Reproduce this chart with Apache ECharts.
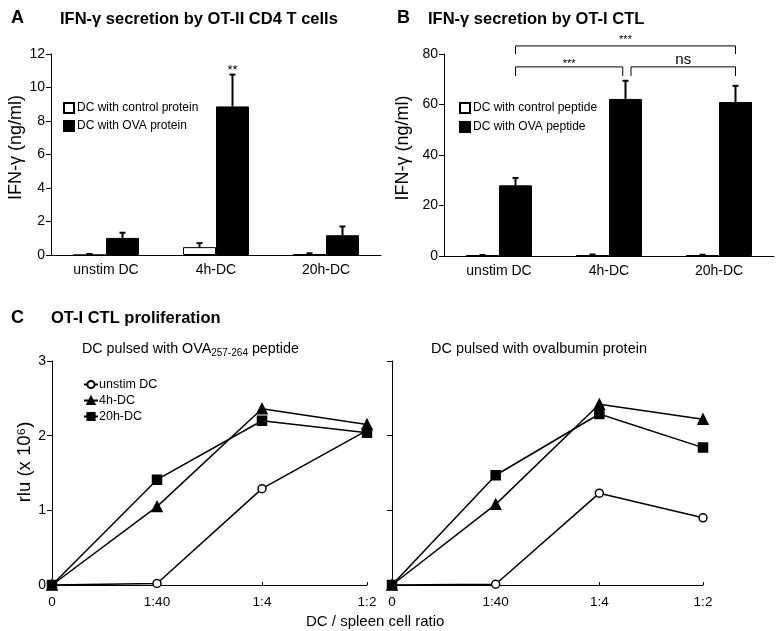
<!DOCTYPE html>
<html>
<head>
<meta charset="utf-8">
<script src="https://cdn.jsdelivr.net/npm/echarts@6/dist/echarts.min.js"></script>
<style>html,body{margin:0;padding:0;background:#fff}#c{width:777px;height:631px}</style>
</head>
<body>
<div id="c"></div>
<script>
// ---------- data ----------
const groups = ['unstim DC', '4h-DC', '20h-DC'];
// Panel A (ng/ml)
const aControl = [0, 0.47, 0.05];
const aControlUpper = [0.06, 0.71, 0.1];
const aOVA = [1.02, 8.87, 1.18];
const aOVAUpper = [1.33, 10.77, 1.7];
const aSig = ['', '**', ''];
// Panel B (ng/ml)
const bControl = [0.3, 0.3, 0.3];
const bControlUpper = [0.4, 0.6, 0.5];
const bOVA = [28, 62.2, 61];
const bOVAUpper = [30.9, 69.4, 67.4];
// brackets in B: from group, to group, bracket height, leg bottom, label
const brFrom = [0, 1, 0];
const brTo = [1, 2, 2];
const brTop = [74.9, 74.9, 83.2];
const brLeg = [71.3, 71.3, 80];
const brText = ['***', 'ns', '***'];
// Panel C (rlu x 10^6)
const ratios = ['0', '1:40', '1:4', '1:2'];
const pepUnstim = [0, 0.02, 1.29, 2.07];
const pep4h = [0, 1.05, 2.36, 2.15];
const pep20h = [0, 1.41, 2.2, 2.04];
const protUnstim = [0, 0.01, 1.23, 0.9];
const prot4h = [0, 1.08, 2.42, 2.22];
const prot20h = [0, 1.47, 2.29, 1.84];
const yTicksA = {min: 0, max: 12, interval: 2};
const yTicksB = {min: 0, max: 80, interval: 20};
const yTicksC = {min: 0, max: 3, interval: 1};

// ---------- chart ----------
const FONT = "'Liberation Sans', Arial, Helvetica, sans-serif";
const chart = echarts.init(document.getElementById('c'), null, {renderer: 'canvas'});

function errSeries(xi, vals, uppers, offFrac, sig) {
  return {
    type: 'custom', xAxisIndex: xi, yAxisIndex: xi, clip: false, silent: true, z: 5,
    data: vals.map((v, i) => [i, v, uppers[i]]),
    renderItem: function (params, api) {
      const w = api.size([1, 0])[0];
      const base = api.coord([api.value(0), api.value(1)]);
      const top = api.coord([api.value(0), api.value(2)]);
      const x = base[0] + w * offFrac;
      const children = [
        {type: 'line', shape: {x1: x, y1: base[1], x2: x, y2: top[1]}, style: {stroke: '#000', lineWidth: 2}},
        {type: 'line', shape: {x1: x - 3, y1: top[1], x2: x + 3, y2: top[1]}, style: {stroke: '#000', lineWidth: 2}}
      ];
      if (sig && sig[params.dataIndex]) {
        children.push({type: 'text', style: {text: sig[params.dataIndex], x: x, y: top[1] + 2, textAlign: 'center', textVerticalAlign: 'bottom', fontSize: 13, fontFamily: FONT, fill: '#000'}});
      }
      return {type: 'group', children: children};
    }
  };
}

const bracketSeries = {
  type: 'custom', xAxisIndex: 1, yAxisIndex: 1, clip: false, silent: true, z: 6,
  data: brFrom.map((f, i) => [f, brTo[i], brTop[i], brLeg[i]]),
  renderItem: function (params, api) {
    const i = params.dataIndex;
    const w = api.size([1, 0])[0];
    const fromOff = [0.15, 0.2, 0.15][i];
    const toOff = [0.125, 0.15, 0.15][i];
    const dy = [3, 0, 0][i];
    const x1 = api.coord([api.value(0), 0])[0] + w * fromOff;
    const x2 = api.coord([api.value(1), 0])[0] + w * toOff;
    const yt = api.coord([0, api.value(2)])[1];
    const yl = api.coord([0, api.value(3)])[1];
    const isNs = brText[i] === 'ns';
    return {type: 'group', children: [
      {type: 'polyline', shape: {points: [[x1, yl], [x1, yt], [x2, yt], [x2, yl]]}, style: {stroke: '#000', lineWidth: 1, fill: null}},
      {type: 'text', style: {text: brText[i], x: (x1 + x2) / 2, y: yt + dy, textAlign: 'center', textVerticalAlign: 'bottom', fontSize: isNs ? 15 : 11, fontFamily: FONT, fill: '#000'}}
    ]};
  }
};

function catAxis(gi, data, opts) {
  return Object.assign({
    type: 'category', gridIndex: gi, data: data,
    axisLine: {lineStyle: {color: '#000', width: 1}},
    axisTick: {lineStyle: {color: '#000'}, length: 4},
    axisLabel: {color: '#000', fontSize: 14, fontFamily: FONT, margin: 8},
    splitLine: {show: false}
  }, opts || {});
}
function valAxis(gi, t, opts) {
  return Object.assign({
    type: 'value', gridIndex: gi, min: t.min, max: t.max, interval: t.interval,
    axisLine: {show: true, lineStyle: {color: '#000', width: 1}},
    axisTick: {show: true, length: 5, lineStyle: {color: '#000'}},
    axisLabel: {color: '#000', fontSize: 14, fontFamily: FONT, margin: 6},
    splitLine: {show: false},
    nameLocation: 'middle',
    nameTextStyle: {color: '#000', fontSize: 18, fontFamily: FONT, padding: [0, 0, 0, 14]}
  }, opts || {});
}
function lineSeries(xi, name, data, symbol, size, fill) {
  return {
    type: 'line', name: name, xAxisIndex: xi, yAxisIndex: xi, data: data,
    symbol: symbol, symbolSize: size, showAllSymbol: true, silent: true,
    lineStyle: {color: '#000', width: 1.5},
    itemStyle: {color: fill, borderColor: '#000', borderWidth: 1.5}
  };
}
const bold = (s) => ({fontSize: s, fontWeight: 'bold', color: '#000', fontFamily: FONT});
const plain = (s) => ({fontSize: s, fontWeight: 'normal', color: '#000', fontFamily: FONT});

const option = {
  backgroundColor: '#fff',
  animation: false,
  textStyle: {fontFamily: FONT},
  title: [
    {text: 'A', left: 11, top: 9, padding: 0, textStyle: bold(18)},
    {text: 'IFN-γ secretion by OT-II CD4 T cells', left: 60, top: 11, padding: 0, textStyle: bold(16.5)},
    {text: 'B', left: 397, top: 9, padding: 0, textStyle: bold(18)},
    {text: 'IFN-γ secretion by OT-I CTL', left: 428, top: 11, padding: 0, textStyle: bold(16.5)},
    {text: 'C', left: 11, top: 309, padding: 0, textStyle: bold(18)},
    {text: 'OT-I CTL proliferation', left: 51, top: 310, padding: 0, textStyle: bold(16.5)},
    {text: '{a|DC pulsed with OVA}{s|257-264}{a| peptide}', left: 82, top: 341, padding: 0,
     textStyle: {fontWeight: 'normal', rich: {a: plain(14.3), s: Object.assign(plain(10), {padding: [7, 0, 0, 0]})}}},
    {text: 'DC pulsed with ovalbumin protein', left: 431, top: 341, padding: 0, textStyle: plain(14.5)},
    {text: 'DC / spleen cell ratio', left: 306, top: 614, padding: 0, textStyle: plain(15)}
  ],
  legend: [
    {data: ['DC with control protein', 'DC with OVA protein'], orient: 'vertical', left: 63, top: 102, padding: 0,
     itemWidth: 10, itemHeight: 10, itemGap: 6, selectedMode: false, icon: 'rect',
     textStyle: {fontSize: 12, color: '#000', fontFamily: FONT, padding: [0, 0, 0, -2]}},
    {data: ['DC with control peptide', 'DC with OVA peptide'], orient: 'vertical', left: 459, top: 102, padding: 0,
     itemWidth: 10, itemHeight: 10, itemGap: 7, selectedMode: false, icon: 'rect',
     textStyle: {fontSize: 12, color: '#000', fontFamily: FONT, padding: [0, 0, 0, -2]}},
    {data: ['unstim DC', '4h-DC', '20h-DC'], orient: 'vertical', left: 83, top: 378, padding: 0,
     itemWidth: 14, itemHeight: 9, itemGap: 3, selectedMode: false,
     textStyle: {fontSize: 12.5, color: '#000', fontFamily: FONT, padding: [0, 0, 0, -4]}}
  ],
  grid: [
    {left: 51, top: 54, width: 330, height: 201},
    {left: 444, top: 54, width: 330, height: 202},
    {left: 52, top: 361, width: 315, height: 224},
    {left: 392, top: 361, width: 311, height: 224}
  ],
  xAxis: [
    catAxis(0, groups),
    catAxis(1, groups),
    catAxis(2, ratios, {boundaryGap: false, axisTick: {inside: true, length: 3, lineStyle: {color: '#000'}}, axisLabel: {color: '#000', fontSize: 13.5, fontFamily: FONT, margin: 10}}),
    catAxis(3, ratios, {boundaryGap: false, axisTick: {inside: true, length: 3, lineStyle: {color: '#000'}}, axisLabel: {color: '#000', fontSize: 13.5, fontFamily: FONT, margin: 10}})
  ],
  yAxis: [
    valAxis(0, yTicksA, {name: 'IFN-γ (ng/ml)', nameGap: 19}),
    valAxis(1, yTicksB, {name: 'IFN-γ (ng/ml)', nameGap: 32}),
    valAxis(2, yTicksC, {name: 'rlu (x 10⁶)', nameGap: 18, nameTextStyle: {color: '#000', fontSize: 18.5, fontFamily: FONT, padding: [0, 0, 0, 22]}}),
    valAxis(3, yTicksC, {axisLabel: {show: false}})
  ],
  series: [
    {type: 'bar', name: 'DC with control protein', xAxisIndex: 0, yAxisIndex: 0, data: aControl, barWidth: '30%', barGap: '0%',
     itemStyle: {color: '#fff', borderColor: '#000', borderWidth: 1}, silent: true},
    {type: 'bar', name: 'DC with OVA protein', xAxisIndex: 0, yAxisIndex: 0, data: aOVA, barWidth: '30%', barGap: '0%',
     itemStyle: {color: '#000', borderColor: '#000', borderWidth: 1}, silent: true},
    errSeries(0, aControl, aControlUpper, -0.15),
    errSeries(0, aOVA, aOVAUpper, 0.15, aSig),
    {type: 'bar', name: 'DC with control peptide', xAxisIndex: 1, yAxisIndex: 1, data: bControl, barWidth: '30%', barGap: '0%',
     itemStyle: {color: '#fff', borderColor: '#000', borderWidth: 1}, silent: true},
    {type: 'bar', name: 'DC with OVA peptide', xAxisIndex: 1, yAxisIndex: 1, data: bOVA, barWidth: '30%', barGap: '0%',
     itemStyle: {color: '#000', borderColor: '#000', borderWidth: 1}, silent: true},
    errSeries(1, bControl, bControlUpper, -0.15),
    errSeries(1, bOVA, bOVAUpper, 0.15),
    bracketSeries,
    lineSeries(2, 'unstim DC', pepUnstim, 'circle', 8, '#fff'),
    lineSeries(2, '4h-DC', pep4h, 'triangle', 10, '#000'),
    lineSeries(2, '20h-DC', pep20h, 'rect', 9, '#000'),
    lineSeries(3, 'unstim DC', protUnstim, 'circle', 8, '#fff'),
    lineSeries(3, '4h-DC', prot4h, 'triangle', 10, '#000'),
    lineSeries(3, '20h-DC', prot20h, 'rect', 9, '#000')
  ]
};
chart.setOption(option);
</script>
</body>
</html>
